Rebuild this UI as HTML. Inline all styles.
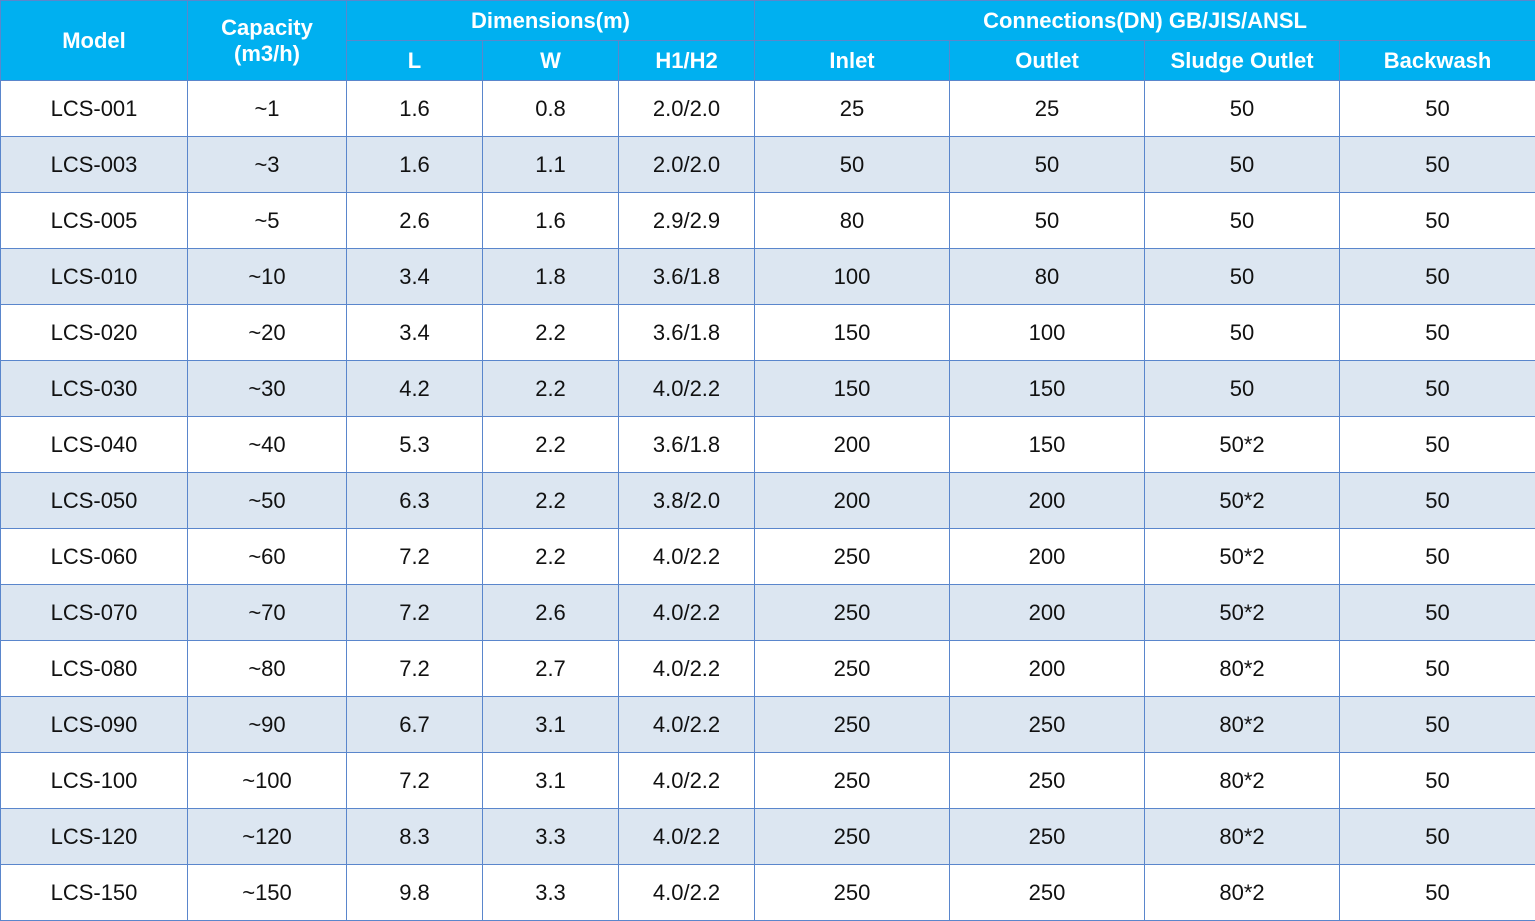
<!DOCTYPE html>
<html><head><meta charset="utf-8"><style>
html,body{margin:0;padding:0;background:#fff;width:1535px;height:921px;overflow:hidden}
table{border-collapse:collapse;table-layout:fixed;position:absolute;left:0;top:0;width:1535px;font-family:"Liberation Sans",sans-serif;font-size:22px}
td,th{border:1px solid #5a86cc;text-align:center;padding:0;color:#111;font-weight:normal}
th{background:#00b0f0;color:#fff;font-weight:bold;height:39px;font-size:22px;line-height:26px}
td{height:55px}
tr.alt td{background:#dce6f1}
</style></head><body>
<table>
<colgroup><col style="width:187px"><col style="width:159px"><col style="width:136px"><col style="width:136px"><col style="width:136px"><col style="width:195px"><col style="width:195px"><col style="width:195px"><col style="width:196px"></colgroup>
<thead>
<tr>
<th rowspan="2">Model</th>
<th rowspan="2">Capacity<br>(m3/h)</th>
<th colspan="3">Dimensions(m)</th>
<th colspan="4">Connections(DN) GB/JIS/ANSL</th>
</tr>
<tr>
<th>L</th>
<th>W</th>
<th>H1/H2</th>
<th>Inlet</th>
<th>Outlet</th>
<th>Sludge Outlet</th>
<th>Backwash</th>
</tr>
</thead>
<tbody id="tb"></tbody>
</table>
<script>
const models=["LCS-001","LCS-003","LCS-005","LCS-010","LCS-020","LCS-030","LCS-040","LCS-050","LCS-060","LCS-070","LCS-080","LCS-090","LCS-100","LCS-120","LCS-150"];
const capacity=["~1","~3","~5","~10","~20","~30","~40","~50","~60","~70","~80","~90","~100","~120","~150"];
const lengths=["1.6","1.6","2.6","3.4","3.4","4.2","5.3","6.3","7.2","7.2","7.2","6.7","7.2","8.3","9.8"];
const widths=["0.8","1.1","1.6","1.8","2.2","2.2","2.2","2.2","2.2","2.6","2.7","3.1","3.1","3.3","3.3"];
const heights=["2.0/2.0","2.0/2.0","2.9/2.9","3.6/1.8","3.6/1.8","4.0/2.2","3.6/1.8","3.8/2.0","4.0/2.2","4.0/2.2","4.0/2.2","4.0/2.2","4.0/2.2","4.0/2.2","4.0/2.2"];
const inlet=["25","50","80","100","150","150","200","200","250","250","250","250","250","250","250"];
const outlet=["25","50","50","80","100","150","150","200","200","200","200","250","250","250","250"];
const sludge=["50","50","50","50","50","50","50*2","50*2","50*2","50*2","80*2","80*2","80*2","80*2","80*2"];
const backwash=["50","50","50","50","50","50","50","50","50","50","50","50","50","50","50"];
const cols=[models,capacity,lengths,widths,heights,inlet,outlet,sludge,backwash];
const colNames=["model","capacity","length","width","height","inlet","outlet","sludge-outlet","backwash"];
const tb=document.getElementById('tb');
models.forEach((m,i)=>{
  const tr=document.createElement('tr');
  
  
  if(i%2===1)tr.className='alt';
  cols.forEach((c,j)=>{
    const td=document.createElement('td');
    
    
    td.textContent=c[i];
    tr.appendChild(td);
  });
  tb.appendChild(tr);
});
</script>
</body></html>
